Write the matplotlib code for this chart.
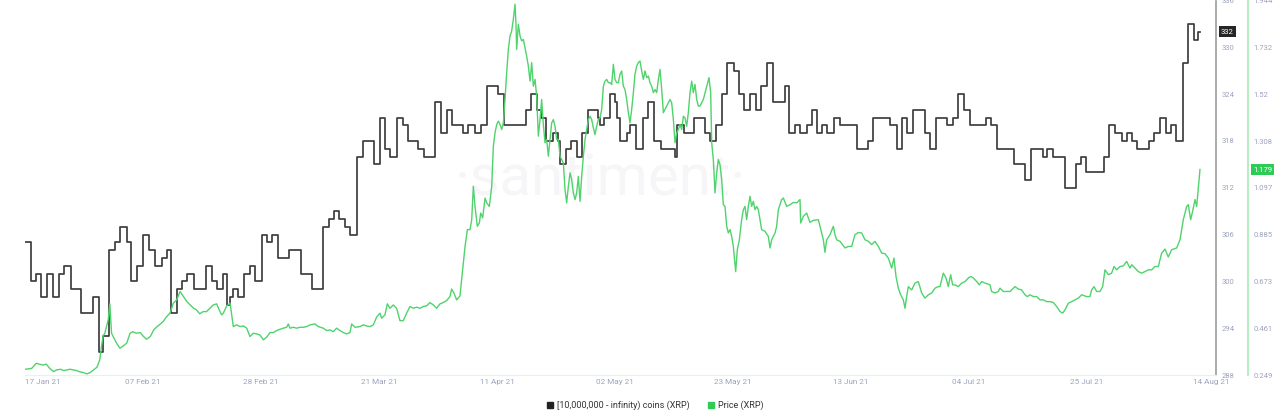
import numpy as np
import matplotlib
matplotlib.use("Agg")
from matplotlib import pyplot as plt
from matplotlib.lines import Line2D
import matplotlib.transforms as mtrans

plt.rcParams["font.family"] = ["Roboto", "DejaVu Sans"]

start = np.datetime64("2021-01-01T00:00")

# addresses holding 10M+ XRP: day of 2021 (0 = 1 Jan) where the count changes
hold_day = [16.0, 17.1, 18.0, 18.9, 19.9, 20.9, 22.1, 23.0, 24.1, 26.0,
            28.1, 29.1, 29.9, 30.9, 32.0, 32.9, 34.1, 34.9, 35.9, 37.0,
            38.1, 39.2, 40.4, 41.2, 42.0, 43.1, 43.9, 44.8, 46.0, 48.2,
            49.2, 50.1, 51.2, 52.0, 52.5, 53.1, 53.9, 55.0, 56.1, 57.0,
            58.1, 59.1, 59.9, 61.1, 63.0, 65.1, 67.0, 69.1, 70.1, 71.0,
            71.9, 73.0, 73.9, 75.0, 76.1, 78.1, 79.1, 80.0, 80.9, 82.2,
            83.2, 84.1, 86.0, 87.0, 89.0, 90.1, 91.1, 92.0, 94.0, 94.9,
            96.1, 97.1, 98.2, 100.1, 101.2, 105.2, 106.1, 107.1, 107.8, 108.8,
            110.0, 110.9, 111.2, 112.2, 113.1, 114.2, 115.2, 116.2, 118.0, 118.3,
            119.0, 120.1, 121.0, 121.3, 121.9, 123.1, 123.7, 124.8, 125.9, 126.9,
            128.0, 129.2, 131.7, 132.1, 133.2, 135.0, 137.0, 137.9, 139.0, 140.1,
            141.0, 142.2, 143.1, 144.0, 145.1, 146.1, 147.0, 148.1, 149.1, 151.2,
            152.0, 153.0, 153.9, 155.1, 156.0, 156.9, 157.9, 158.8, 160.0, 161.1,
            164.0, 166.1, 167.0, 169.9, 171.1, 172.0, 173.0, 174.0, 176.2, 177.1,
            178.1, 180.0, 181.1, 182.1, 183.1, 184.1, 187.0, 188.0, 189.0, 192.0,
            194.0, 195.1, 197.1, 197.9, 199.0, 201.1, 203.0, 204.0, 204.9, 208.0,
            208.9, 210.0, 211.2, 212.1, 213.0, 213.9, 216.0, 216.9, 218.0, 219.0,
            220.0, 220.9, 222.0, 222.9, 224.1, 224.8, 225.1]
hold_val = [305, 300, 301, 298, 301, 298, 301, 302, 299, 296,
            298, 291, 293, 304, 305, 307, 305, 300, 302, 306,
            304, 302, 303, 304, 296, 299, 300, 301, 299, 302,
            300, 299, 301, 297, 298, 299, 298, 301, 302, 300,
            306, 305, 306, 303, 304, 301, 299, 307, 308, 309,
            308, 307, 306, 316, 318, 315, 321, 317, 316, 321,
            320, 318, 317, 316, 323, 319, 322, 320, 319, 320,
            319, 320, 325, 324, 320, 322, 324, 322, 321, 318,
            319, 318, 315, 317, 318, 316, 319, 322, 321, 320,
            321, 324, 323, 321, 318, 319, 320, 317, 321, 323,
            318, 317, 316, 320, 319, 321, 319, 318, 320, 324,
            328, 327, 324, 322, 324, 322, 325, 328, 323, 325,
            319, 320, 319, 320, 322, 319, 320, 319, 321, 320,
            317, 318, 321, 320, 317, 321, 319, 322, 319, 317,
            321, 320, 321, 324, 322, 320, 321, 320, 317, 315,
            313, 317, 316, 317, 316, 312, 315, 316, 314, 316,
            320, 319, 318, 319, 318, 317, 318, 319, 321, 319,
            320, 318, 328, 333, 331, 332, 332]

# XRP price (USD)
price_day = [16.1, 17.2, 18.0, 18.6, 19.2, 19.8, 20.4, 21.1, 21.6, 22.3,
             22.9, 23.5, 24.0, 24.6, 25.2, 25.8, 26.4, 27.0, 27.6, 28.2,
             28.8, 29.3, 29.6, 29.9, 30.2, 30.5, 30.8, 31.1, 31.4, 31.7,
             32.3, 32.9, 33.5, 34.1, 34.7, 35.2, 35.8, 36.5, 37.1, 37.6,
             38.3, 38.9, 39.5, 40.1, 40.6, 41.2, 41.8, 42.4, 43.0, 43.6,
             44.2, 44.8, 45.4, 46.0, 46.5, 47.1, 47.7, 48.3, 48.9, 49.5,
             50.1, 50.7, 51.0, 51.3, 51.9, 52.5,
             53.07, 53.67, 54.26, 54.85, 55.45, 56.04, 56.63, 57.23, 57.82, 58.41,
             59.01, 59.60, 60.19, 60.78, 61.38, 61.97, 62.56, 62.86, 63.16, 63.75,
             64.34, 64.94, 65.53, 66.12, 66.72, 67.61, 68.20, 69.09, 69.68, 70.28,
             70.87, 71.46, 72.06, 72.65, 73.24, 73.84, 74.13, 74.73, 75.61, 76.21,
             76.80, 77.39, 77.99, 78.58, 79.17, 79.47, 80.06, 80.48, 80.95, 81.55,
             82.14, 82.73, 83.33, 83.92, 84.51, 85.11, 85.70, 86.29, 86.89, 87.48,
             88.07, 88.67, 89.26, 89.85, 90.44, 91.04, 91.63, 91.93, 92.34, 92.82,
             93.41, 94.00,
             94.31, 94.73, 95.20, 95.50, 95.79, 96.09, 96.50, 96.86, 97.10, 97.45,
             97.87, 98.17, 98.64, 99.06, 99.35, 99.65, 99.95, 100.24, 100.54, 100.84,
             101.13, 101.43, 101.72, 102.02, 102.32, 102.61, 102.91, 103.21, 103.39, 103.50,
             103.80, 104.10, 104.39, 104.69, 104.99, 105.28, 105.58, 105.88, 106.17, 106.47,
             106.77, 107.06, 107.36, 107.66, 107.95, 108.25, 108.55, 108.84, 109.14, 109.44,
             109.73, 110.03, 110.33, 110.62, 110.92, 111.22, 111.51, 111.81, 112.11, 112.40,
             112.70, 113.00, 113.29, 113.59, 113.89, 114.18, 114.48, 114.78, 115.07, 115.37,
             115.67, 115.96, 116.26, 116.56, 116.85, 117.15, 117.44, 117.74, 118.04, 118.33,
             118.63, 118.93, 119.22, 119.52, 119.82, 120.11, 120.41, 120.71, 121.00, 121.30,
             121.60, 121.89, 122.19, 122.49, 122.78, 123.08, 123.38, 123.67, 123.97, 124.27,
             124.56, 124.86, 125.16, 125.45, 125.75, 126.05, 126.34, 126.64, 126.94, 127.23,
             127.53, 127.83, 128.12, 128.42, 128.72, 129.01, 129.31, 129.61, 129.90, 130.20,
             130.50, 130.79, 131.09, 131.39, 131.68, 131.98, 132.28, 132.57, 132.87, 133.17,
             133.46, 133.76, 134.05, 134.35, 134.65, 134.94, 135.24, 135.54, 135.83,
             136.13, 136.72, 137.32, 137.73, 138.03, 138.21, 138.50, 138.80, 139.10, 139.39,
             139.69, 139.99, 140.28, 140.58, 140.88, 141.17, 141.47, 141.77, 142.06, 142.48,
             142.77, 143.13, 143.54, 143.84, 144.14, 144.43, 144.73, 145.03, 145.32, 145.62,
             145.92, 146.21, 146.51, 146.81, 147.10, 147.70, 148.29, 148.59, 148.88, 149.48,
             149.77, 150.07, 150.66, 150.96, 151.55, 152.15, 152.74, 153.33, 153.93, 154.04,
             154.52, 155.11, 155.41, 155.71, 156.30, 157.19, 157.48, 157.78, 158.08, 158.37,
             158.67, 159.26, 159.86, 160.15, 160.45, 161.04, 161.93, 162.53, 163.12, 163.71,
             164.31, 164.90, 165.49, 166.09, 166.68, 167.27, 167.87, 168.46, 169.05, 169.65,
             170.24, 170.65, 171.01, 171.43, 171.84, 172.31, 172.61, 172.91, 173.20, 173.80,
             174.39, 174.98, 175.58, 176.17, 176.76, 177.36, 177.95, 178.54,
             178.84, 179.43, 179.91, 180.32, 180.74, 181.09, 181.51, 182.10, 182.70, 183.29,
             183.88, 184.30, 184.77, 185.37, 185.84, 186.26, 186.85, 187.74, 188.03, 188.63,
             189.22, 189.52, 190.11, 190.70, 191.30, 191.89, 192.19, 192.78, 193.37, 193.97,
             194.38, 194.86, 195.45, 196.04, 196.64, 197.23, 197.82, 198.42, 199.01, 199.60,
             200.20, 200.67, 201.09, 201.68, 202.27, 202.86, 203.46, 204.05, 204.94, 205.53,
             205.83, 206.25, 206.72, 207.31, 207.79, 208.20, 208.80, 209.39, 209.81, 210.28,
             210.87, 211.47, 212.06, 212.65, 212.95, 213.54, 214.14, 214.73, 215.32, 215.92,
             216.51, 217.10, 217.70, 218.29, 218.88, 219.47, 220.07, 220.96, 221.55, 222.14,
             222.74, 223.03, 223.45, 223.80, 224.22, 224.52, 225.11]
price_val = [0.275, 0.279, 0.302, 0.298, 0.294, 0.298, 0.279, 0.264, 0.272, 0.275,
             0.269, 0.272, 0.275, 0.272, 0.269, 0.263, 0.260, 0.254, 0.260, 0.272,
             0.284, 0.317, 0.377, 0.426, 0.438, 0.468, 0.498, 0.571, 0.438, 0.423,
             0.393, 0.370, 0.381, 0.393, 0.438, 0.445, 0.438, 0.441, 0.423, 0.411,
             0.423, 0.453, 0.468, 0.480, 0.491, 0.513, 0.529, 0.574, 0.589, 0.627,
             0.604, 0.581, 0.566, 0.551, 0.544, 0.526, 0.536, 0.536, 0.551, 0.566,
             0.571, 0.536, 0.521, 0.529, 0.562, 0.574,
             0.468, 0.476, 0.468, 0.471, 0.461, 0.423, 0.438, 0.435, 0.430, 0.408,
             0.420, 0.441, 0.441, 0.450, 0.456, 0.461, 0.465, 0.480, 0.461, 0.465,
             0.461, 0.465, 0.465, 0.468, 0.476, 0.480, 0.468, 0.461, 0.450, 0.453,
             0.445, 0.461, 0.450, 0.441, 0.435, 0.441, 0.480, 0.465, 0.468, 0.476,
             0.471, 0.468, 0.476, 0.511, 0.529, 0.506, 0.521, 0.571, 0.551, 0.566,
             0.551, 0.495, 0.495, 0.529, 0.559, 0.551, 0.556, 0.551, 0.559, 0.562,
             0.577, 0.566, 0.551, 0.571, 0.577, 0.586, 0.604, 0.638, 0.620, 0.589,
             0.607, 0.756,
             0.830, 0.907, 0.907, 0.952, 1.103, 1.012, 0.922, 0.937, 0.982, 0.960,
             1.050, 1.028, 1.012, 1.103, 1.284, 1.345, 1.383, 1.398, 1.383, 1.360,
             1.390, 1.496, 1.617, 1.723, 1.783, 1.806, 1.859, 1.927, 1.829, 1.723,
             1.836, 1.783, 1.761, 1.768, 1.730, 1.692, 1.647, 1.579, 1.663, 1.556,
             1.587, 1.511, 1.330, 1.405, 1.496, 1.383, 1.300, 1.315, 1.239, 1.315,
             1.390, 1.405, 1.375, 1.315, 1.315, 1.239, 1.224, 1.209, 1.088, 1.028,
             1.103, 1.164, 1.133, 1.073, 1.043, 1.073, 1.148, 1.035, 1.148, 1.239,
             1.315, 1.360, 1.405, 1.420, 1.405, 1.368, 1.337, 1.375, 1.405, 1.413,
             1.451, 1.556, 1.579, 1.587, 1.572, 1.572, 1.564, 1.655, 1.587, 1.572,
             1.572, 1.610, 1.625, 1.556, 1.541, 1.496, 1.436, 1.390, 1.451, 1.527,
             1.610, 1.647, 1.663, 1.670, 1.625, 1.587, 1.625, 1.595, 1.602, 1.572,
             1.556, 1.527, 1.541, 1.527, 1.587, 1.632, 1.541, 1.436, 1.451, 1.466,
             1.481, 1.496, 1.481, 1.405, 1.300, 1.345, 1.360, 1.383, 1.360, 1.420,
             1.413, 1.375, 1.436, 1.527, 1.579, 1.527, 1.564, 1.496, 1.466,
             1.466, 1.496, 1.556, 1.595, 1.527, 1.300, 1.224, 1.073, 1.164, 1.224,
             1.201, 1.133, 1.020, 1.012, 0.922, 0.892, 0.907, 0.876, 0.831, 0.717,
             0.816, 0.861, 0.952, 0.997, 1.012, 0.952, 1.012, 1.058, 1.012, 1.035,
             0.997, 1.012, 0.997, 0.952, 0.907, 0.899, 0.876, 0.824, 0.861, 0.892,
             0.922, 0.997, 1.043, 1.050, 1.012, 1.020, 1.030, 1.028, 1.043, 0.937,
             0.967, 0.982, 0.960, 0.940, 0.949, 0.952, 0.922, 0.892, 0.861, 0.804,
             0.861, 0.884, 0.922, 0.884, 0.861, 0.854, 0.824, 0.831, 0.831, 0.884,
             0.894, 0.892, 0.861, 0.854, 0.839, 0.854, 0.831, 0.801, 0.798, 0.778,
             0.733, 0.778, 0.695, 0.642, 0.612, 0.589, 0.551, 0.604, 0.649, 0.634,
             0.665, 0.672, 0.620, 0.597, 0.612, 0.620, 0.642, 0.649,
             0.649, 0.710, 0.688, 0.649, 0.703, 0.657, 0.657, 0.649, 0.665, 0.672,
             0.688, 0.695, 0.688, 0.672, 0.657, 0.672, 0.665, 0.657, 0.627, 0.620,
             0.627, 0.642, 0.627, 0.627, 0.627, 0.642, 0.649, 0.638, 0.634, 0.612,
             0.604, 0.612, 0.604, 0.604, 0.589, 0.589, 0.581, 0.581, 0.577, 0.559,
             0.536, 0.529, 0.544, 0.574, 0.581, 0.589, 0.597, 0.612, 0.604, 0.604,
             0.634, 0.649, 0.627, 0.627, 0.649, 0.725, 0.703, 0.710, 0.740, 0.725,
             0.740, 0.743, 0.763, 0.733, 0.748, 0.733, 0.717, 0.710, 0.717, 0.725,
             0.725, 0.740, 0.740, 0.801, 0.819, 0.783, 0.816, 0.824, 0.861, 0.952,
             1.012, 1.020, 0.952, 0.990, 1.043, 1.012, 1.179]

tick_dates = ["2021-01-17", "2021-02-07", "2021-02-28", "2021-03-21", "2021-04-11",
              "2021-05-02", "2021-05-23", "2021-06-13", "2021-07-04", "2021-07-25",
              "2021-08-14"]
tick_labels = ["17 Jan 21", "07 Feb 21", "28 Feb 21", "21 Mar 21", "11 Apr 21",
               "02 May 21", "23 May 21", "13 Jun 21", "04 Jul 21", "25 Jul 21",
               "14 Aug 21"]
hold_ticks = [288, 294, 300, 306, 312, 318, 324, 330, 336]
price_ticks = [0.249, 0.461, 0.673, 0.885, 1.097, 1.308, 1.52, 1.732, 1.944]
price_tick_labels = ["0.249", "0.461", "0.673", "0.885", "1.097", "1.308", "1.52", "1.732", "1.944"]

hold_name = "[10,000,000 - infinity) coins (XRP)"
price_name = "Price (XRP)"


def to_time(days):
    mins = np.round(np.asarray(days, dtype=float) * 1440).astype("int64")
    return start + mins.astype("timedelta64[m]")


black = "#3e3e3e"
green = "#4fd36c"
label_col = "#9ea3bd"

fig = plt.figure(figsize=(12.8, 4.16), dpi=100)
ax = fig.add_axes([25 / 1280, 41 / 416, 1191 / 1280, 374.5 / 416])
ax2 = ax.twinx()

ax.text(600 / 1280, 1 - 180 / 416, "\u00b7santiment\u00b7", transform=fig.transFigure,
        fontsize=42, color="#f6f6f8", ha="center", va="center", zorder=0)

ax.plot(to_time(hold_day), hold_val, drawstyle="steps-post", color=black, lw=1.25, zorder=3)
ax2.plot(to_time(price_day), price_val, color=green, lw=1.0, zorder=3)

ax.set_xlim(to_time([16.0])[0], to_time([227.96])[0])
ax.set_ylim(288, 336)
ax2.set_ylim(0.249, 1.944)

ax.yaxis.set_ticks_position("right")
ax.set_yticks(hold_ticks)
ax2.set_yticks(price_ticks)
ax2.set_yticklabels(price_tick_labels)

ax.set_xticks(np.array(tick_dates, dtype="datetime64[m]"))
ax.set_xticklabels(tick_labels)

for s in ["left", "top"]:
    ax.spines[s].set_visible(False)
ax.spines["right"].set_color("#9c9c9c")
ax.spines["right"].set_linewidth(1.2)
ax.spines["bottom"].set_color("#eceef4")
for s in ["left", "top", "bottom"]:
    ax2.spines[s].set_visible(False)
ax2.spines["right"].set_position(("axes", 1 + 32 / 1191))
ax2.spines["right"].set_color("#a8eab5")
ax2.spines["right"].set_linewidth(1.2)

ax.tick_params(axis="y", length=0, pad=4, labelsize=5.5, labelcolor=label_col)
ax2.tick_params(axis="y", length=0, pad=4, labelsize=5.5, labelcolor=label_col)
ax.tick_params(axis="x", length=0, pad=3, labelsize=5.9, labelcolor=label_col)

xl = ax.get_xticklabels()
xl[0].set_ha("left")
xl[-1].set_transform(xl[-1].get_transform() + mtrans.ScaledTranslation(12 / 100, 0, fig.dpi_scale_trans))

# current-value badges
ax.text(1 + 5 / 1191, hold_val[-1], str(hold_val[-1]),
        transform=mtrans.blended_transform_factory(ax.transAxes, ax.transData),
        ha="left", va="center", color="white", fontsize=5.5,
        bbox=dict(boxstyle="square,pad=0.3", fc="#262626", ec="none"), clip_on=False)
ax2.text(1 + 37 / 1191, price_val[-1], f"{price_val[-1]:.3f}",
         transform=mtrans.blended_transform_factory(ax2.transAxes, ax2.transData),
         ha="left", va="center", color="white", fontsize=5.5,
         bbox=dict(boxstyle="square,pad=0.3", fc="#2fcb57", ec="none"), clip_on=False)

handles = [Line2D([], [], marker="s", ls="none", color="#222222", markersize=4),
           Line2D([], [], marker="s", ls="none", color="#2fcb57", markersize=4)]
fig.legend(handles, [hold_name, price_name], loc="center",
           bbox_to_anchor=(655 / 1280, 1 - 405 / 416), ncol=2, frameon=False,
           fontsize=6.5, handletextpad=0.3, columnspacing=2.0, handlelength=0.8,
           labelcolor="#333333")

fig.savefig("out.png", dpi=100)
